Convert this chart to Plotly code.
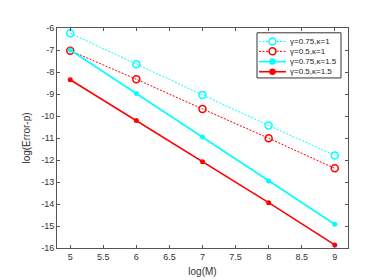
import plotly.graph_objects as go

log_m = [5, 6, 7, 8, 9]
s1 = [-6.24, -7.65, -9.04, -10.43, -11.79]   # γ=0.75, κ=1
s2 = [-7.03, -8.33, -9.68, -11.01, -12.38]   # γ=0.5, κ=1
s3 = [-7.00, -8.98, -10.95, -12.95, -14.92]  # γ=0.75, κ=1.5
s4 = [-8.35, -10.20, -12.08, -13.94, -15.86] # γ=0.5, κ=1.5
names = ["γ=0.75,κ=1", "γ=0.5,κ=1", "γ=0.75,κ=1.5", "γ=0.5,κ=1.5"]
x_ticks = [5, 5.5, 6, 6.5, 7, 7.5, 8, 8.5, 9]
y_ticks = list(range(-16, -5))

CYAN, RED = "#00FFFF", "#FF0000"
styles = [
    dict(color=CYAN, dash="2px,1.5px", lw=1, sym="circle-open", ms=7, filled=False),
    dict(color=RED, dash="2px,1.5px", lw=1, sym="circle-open", ms=7, filled=False),
    dict(color=CYAN, dash="solid", lw=1.6, sym="circle", ms=5, filled=True),
    dict(color=RED, dash="solid", lw=1.6, sym="circle", ms=5, filled=True),
]

W, H = 374, 280
L, R, T, B = 49, 34, 20, 31
PW, PH = W - L - R, H - T - B

def px(xp):
    return (xp - L) / PW

def py(yp):
    return (H - B - yp) / PH

fig = go.Figure()
for ys, nm, st in zip([s1, s2, s3, s4], names, styles):
    mk = dict(symbol=st["sym"], size=st["ms"], color=st["color"])
    if not st["filled"]:
        mk["line"] = dict(width=1.5, color=st["color"])
    fig.add_trace(go.Scatter(x=log_m, y=ys, name=nm, mode="lines+markers",
                             line=dict(color=st["color"], width=st["lw"], dash=st["dash"]),
                             marker=mk, showlegend=False))

# manual compact legend (MATLAB style)
shapes = [dict(type="rect", xref="paper", yref="paper", x0=px(249), x1=px(333),
               y0=py(72), y1=py(25), line=dict(color="#333333", width=1), fillcolor="white", layer="above")]
annotations = []
entry_y = [34, 44.3, 55, 65.5]
for nm, st, ey in zip(names, styles, entry_y):
    shapes.append(dict(type="line", xref="paper", yref="paper", x0=px(251), x1=px(278),
                       y0=py(ey), y1=py(ey), layer="above",
                       line=dict(color=st["color"], width=st["lw"], dash=st["dash"])))
    r = 3.5 if not st["filled"] else 2.5
    shapes.append(dict(type="circle", xref="paper", yref="paper", xsizemode="pixel", ysizemode="pixel",
                       xanchor=px(264.5), yanchor=py(ey), x0=-r, x1=r, y0=-r, y1=r, layer="above",
                       line=dict(color=st["color"], width=1.5),
                       fillcolor=st["color"] if st["filled"] else "white"))
    annotations.append(dict(xref="paper", yref="paper", x=px(280), y=py(ey), text=nm, showarrow=False,
                            xanchor="left", yanchor="middle", font=dict(size=8, color="#222222")))

axis_common = dict(showgrid=False, zeroline=False, showline=True, linecolor="#555555",
                   linewidth=1, mirror="ticks", ticks="inside", ticklen=3, tickcolor="#555555",
                   tickfont=dict(size=9, color="#333333", family="Liberation Sans, Arial"))
fig.update_layout(
    width=W, height=H,
    margin=dict(l=L, r=R, t=T, b=B),
    paper_bgcolor="white", plot_bgcolor="white",
    font=dict(family="Liberation Sans, Arial", size=9, color="#333333"),
    xaxis=dict(range=[4.8, 9.2], tickvals=x_ticks, ticktext=[str(t) for t in x_ticks],
               title=dict(text="log(M)", standoff=7, font=dict(size=10, color="#333333")), **axis_common),
    yaxis=dict(range=[-16, -6], tickvals=y_ticks, ticktext=[str(t) for t in y_ticks],
               title=dict(text="log(Error-p)", standoff=8, font=dict(size=10, color="#333333")), **axis_common),
    shapes=shapes, annotations=annotations,
    showlegend=False,
)
fig.write_html("out.html")
